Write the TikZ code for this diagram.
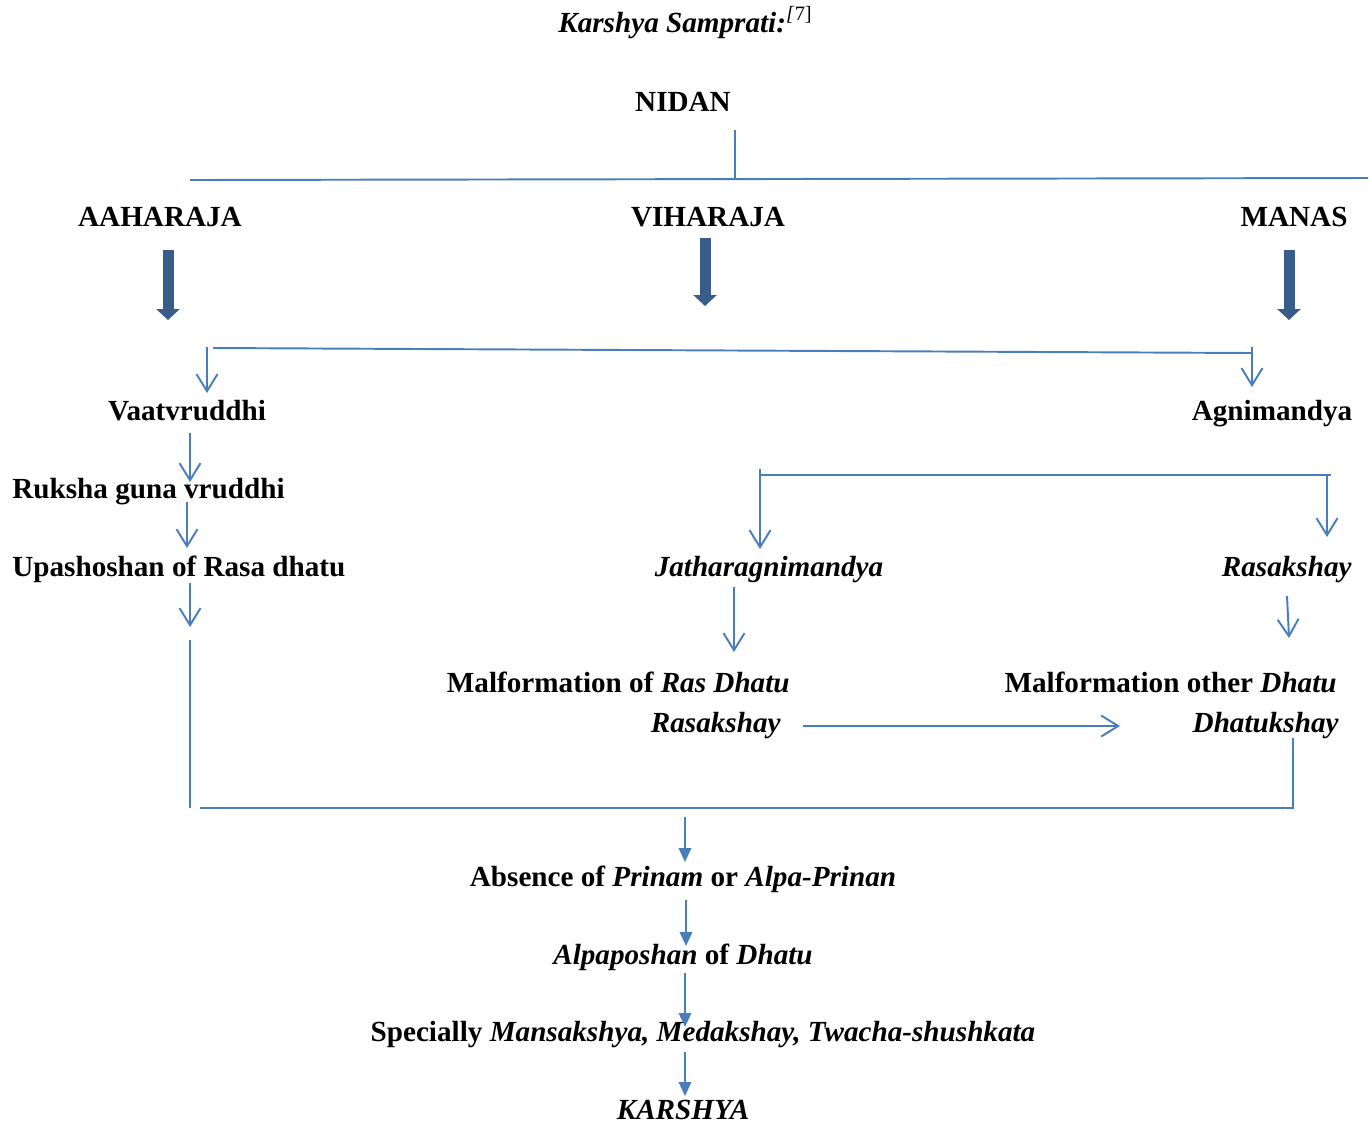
\documentclass[tikz,border=0pt]{standalone}
\usepackage{fontspec}
\setmainfont{Liberation Serif}
\usepackage{xcolor}
\usetikzlibrary{arrows.meta, positioning}
\definecolor{LineBlue}{HTML}{4A7EBB}
\definecolor{DeepBlue}{HTML}{385D8A}

\begin{document}
\begin{tikzpicture}[
    x=0.02cm, y=-0.02cm,
    txt/.style={font=\fontsize{16.6}{20}\selectfont\bfseries, inner sep=0pt},
    link/.style={LineBlue, line width=1.1pt},
    barb/.style={link, -{Straight Barb[length=0.34cm, width=0.42cm]}},
    headed/.style={link, -{Triangle[length=0.28cm, width=0.25cm]}},
    fat/.style={DeepBlue, line width=0.22cm, -{Triangle[length=0.22cm, width=0.46cm]}}
]
\useasboundingbox (0,0) rectangle (1369,1123);

% Title and root
\node[txt, anchor=base west] (title) at (558,32) {\textit{Karshya Samprati:}\textsuperscript{\mdseries\textit{[}7]}};
\node[txt, anchor=base] (nidan) at (683,111) {NIDAN};

% Three causes
\node[txt, anchor=base] (aahar) at (160,226) {AAHARAJA};
\node[txt, anchor=base] (vihar) at (708,226) {VIHARAJA};
\node[txt, anchor=base] (manas) at (1294,226) {MANAS};

% Left chain
\node[txt, anchor=base] (vaat) at (187,420) {Vaatvruddhi};
\node[txt, anchor=base west] (ruksha) at (12,498) {Ruksha guna vruddhi};
\node[txt, anchor=base west] (upash) at (12,576) {Upashoshan of Rasa dhatu};

% Right chain
\node[txt, anchor=base] (agni) at (1272,420) {Agnimandya};
\node[txt, anchor=base] (jathar) at (769,576) {\textit{Jatharagnimandya}};
\node[txt, anchor=base east] (rasa) at (1352,576) {\textit{Rasakshay}};
\node[txt, anchor=base east] (malras) at (790,692) {Malformation of \textit{Ras Dhatu}};
\node[txt, anchor=base east] (rasb) at (781,732) {\textit{Rasakshay}};
\node[txt, anchor=base east] (malother) at (1337,692) {Malformation other \textit{Dhatu}};
\node[txt, anchor=base east] (dhatu) at (1339,732) {\textit{Dhatukshay}};

% Common outcome
\node[txt, anchor=base] (absent) at (683,886) {Absence of \textit{Prinam} or \textit{Alpa-Prinan}};
\node[txt, anchor=base] (alpa) at (683,964) {\textit{Alpaposhan} of \textit{Dhatu}};
\node[txt, anchor=base] (special) at (703,1041) {Specially \textit{Mansakshya, Medakshay, Twacha-shushkata}};
\node[txt, anchor=base] (karshya) at (683,1119) {\textit{KARSHYA}};

% Junction points
\coordinate (n0) at (735,130);
\coordinate (n1) at (735,178);
\coordinate (barL) at (190,180);
\coordinate (barR) at (1368,178);
\coordinate (fa1) at (168,250);
\coordinate (fa1e) at (168,320);
\coordinate (fa2) at (705,238);
\coordinate (fa2e) at (705,306);
\coordinate (fa3) at (1289,250);
\coordinate (fa3e) at (1289,320);
\coordinate (brL) at (213,348);
\coordinate (brR) at (1252,353);
\coordinate (vL0) at (207,347);
\coordinate (vL1) at (207,393);
\coordinate (vR0) at (1252,347);
\coordinate (vR1) at (1252,387);
\coordinate (a1) at (190,433);
\coordinate (a1e) at (190,482);
\coordinate (a2) at (187,502);
\coordinate (a2e) at (187,548);
\coordinate (a3) at (190,583);
\coordinate (a3e) at (190,627);
\coordinate (jL0) at (760,469);
\coordinate (jL1) at (760,549);
\coordinate (jbarL) at (760,475);
\coordinate (jbarR) at (1331,475);
\coordinate (jR0) at (1327,475);
\coordinate (jR1) at (1327,537);
\coordinate (b1) at (734,587);
\coordinate (b1e) at (734,652);
\coordinate (b2) at (1287,596);
\coordinate (b2e) at (1289,638);
\coordinate (r0) at (803,726);
\coordinate (r1) at (1120,726);
\coordinate (low0) at (190,640);
\coordinate (low1) at (190,808);
\coordinate (lowL) at (200,808);
\coordinate (lowR) at (1293,808);
\coordinate (dk) at (1293,738);
\coordinate (c1) at (685,817);
\coordinate (c1e) at (685,862);
\coordinate (c2) at (686,900);
\coordinate (c2e) at (686,946);
\coordinate (c3) at (685,973);
\coordinate (c3e) at (685,1027);
\coordinate (c4) at (685,1052);
\coordinate (c4e) at (685,1096);

% Nidan split
\draw[link] (n0) -- (n1);
\draw[link] (barL) -- (barR);
\draw[fat] (fa1) -- (fa1e);
\draw[fat] (fa2) -- (fa2e);
\draw[fat] (fa3) -- (fa3e);

% Into vata and agni
\draw[link] (brL) -- (brR);
\draw[barb] (vL0) -- (vL1);
\draw[barb] (vR0) -- (vR1);

% Left arrows
\draw[barb] (a1) -- (a1e);
\draw[barb] (a2) -- (a2e);
\draw[barb] (a3) -- (a3e);

% Right arrows
\draw[link] (jbarL) -- (jbarR);
\draw[barb] (jL0) -- (jL1);
\draw[barb] (jR0) -- (jR1);
\draw[barb] (b1) -- (b1e);
\draw[barb] (b2) -- (b2e);
\draw[barb] (r0) -- (r1);

% Merge
\draw[link] (low0) -- (low1);
\draw[link] (lowL) -- (lowR) -- (dk);

% Down to karshya
\draw[headed] (c1) -- (c1e);
\draw[headed] (c2) -- (c2e);
\draw[headed] (c3) -- (c3e);
\draw[headed] (c4) -- (c4e);
\end{tikzpicture}
\end{document}
